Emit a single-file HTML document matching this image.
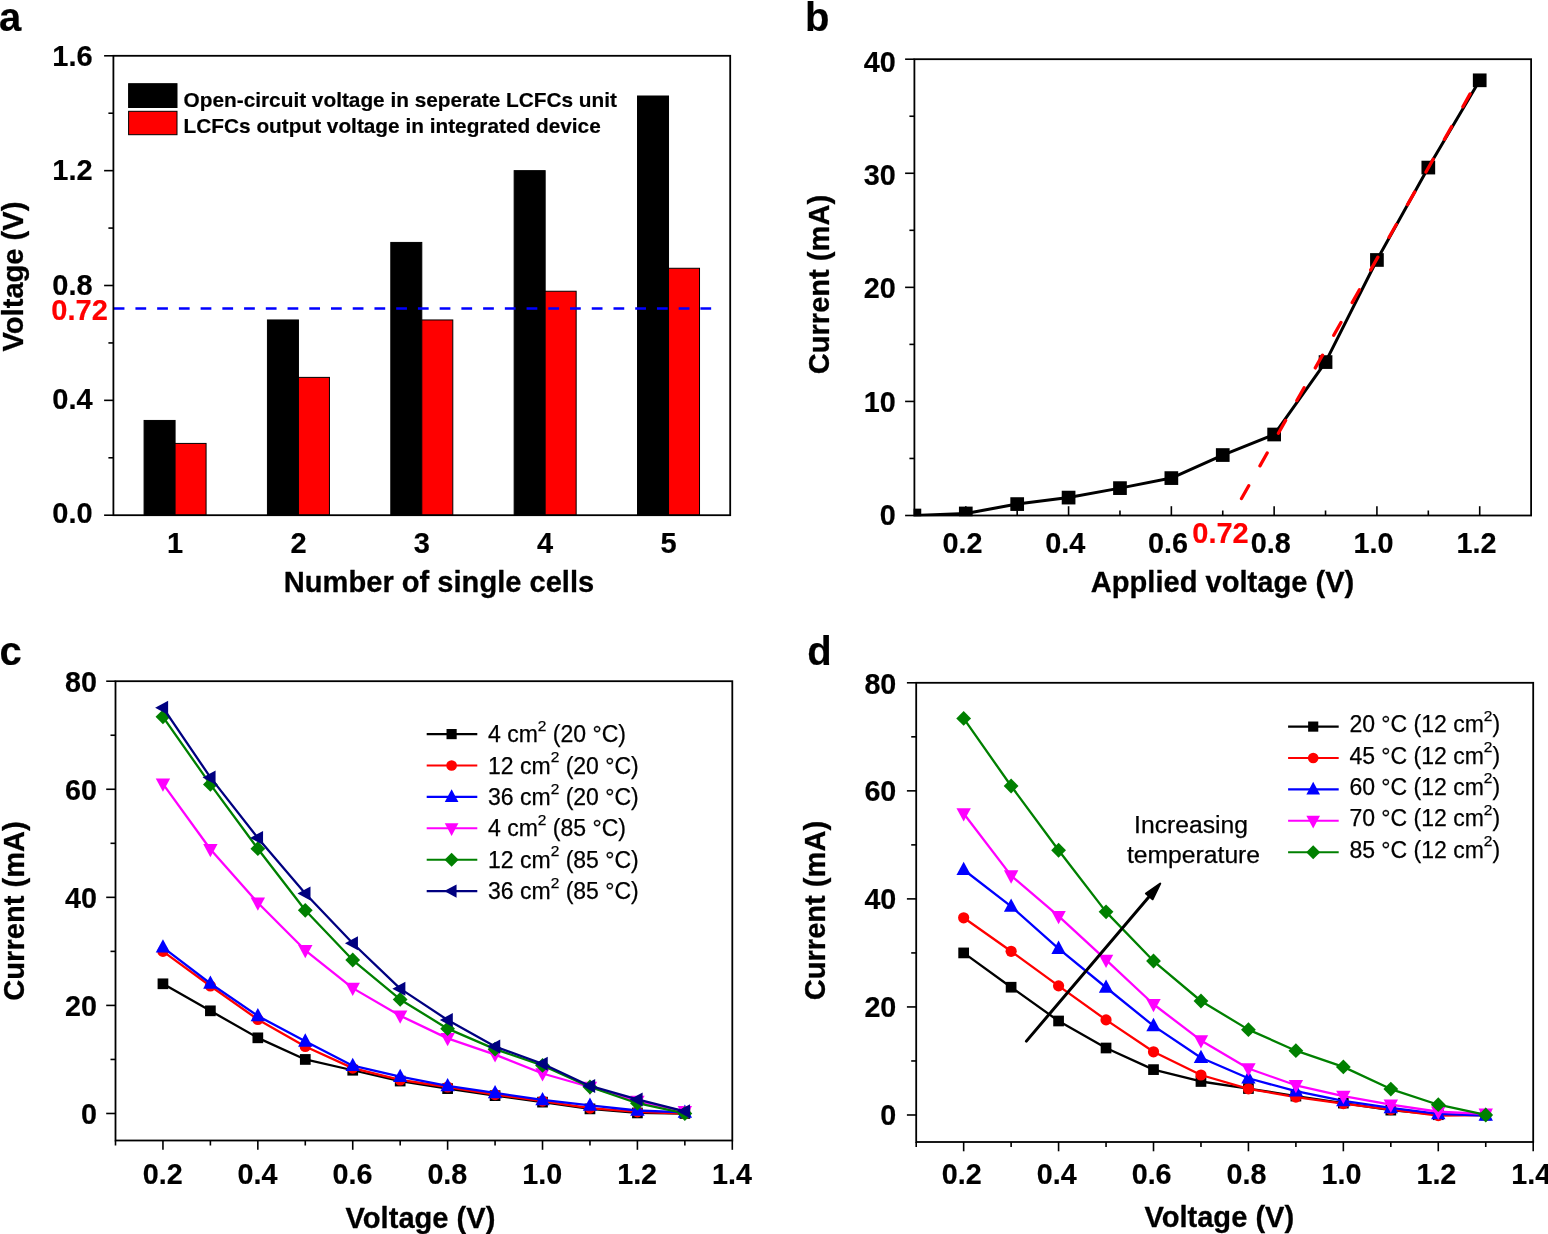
<!DOCTYPE html>
<html lang="en"><head><meta charset="utf-8"><title>Figure</title>
<style>html,body{margin:0;padding:0;background:#fff;overflow:hidden}svg{display:block}</style></head><body>
<svg width="1548" height="1234" viewBox="0 0 1548 1234">
<rect width="1548" height="1234" fill="#fff"/>
<text font-family="Liberation Sans, Arial, Helvetica, sans-serif" font-weight="bold" font-size="40" text-anchor="start" fill="#000" stroke="#000" stroke-width="0.18" stroke-linejoin="round" transform="translate(-1.00 31.20)">a</text>
<text font-family="Liberation Sans, Arial, Helvetica, sans-serif" font-weight="bold" font-size="40" text-anchor="start" fill="#000" stroke="#000" stroke-width="0.18" stroke-linejoin="round" transform="translate(805.00 31.10)">b</text>
<text font-family="Liberation Sans, Arial, Helvetica, sans-serif" font-weight="bold" font-size="40" text-anchor="start" fill="#000" stroke="#000" stroke-width="0.18" stroke-linejoin="round" transform="translate(-0.60 665.00)">c</text>
<text font-family="Liberation Sans, Arial, Helvetica, sans-serif" font-weight="bold" font-size="40" text-anchor="start" fill="#000" stroke="#000" stroke-width="0.18" stroke-linejoin="round" transform="translate(807.20 664.60)">d</text>
<rect x="144.08" y="420.45" width="31.00" height="94.75" fill="#000" stroke="#000" stroke-width="1"/>
<rect x="175.08" y="443.42" width="31.00" height="71.78" fill="#ff0000" stroke="#000" stroke-width="1"/>
<rect x="267.44" y="319.96" width="31.00" height="195.25" fill="#000" stroke="#000" stroke-width="1"/>
<rect x="298.44" y="377.38" width="31.00" height="137.82" fill="#ff0000" stroke="#000" stroke-width="1"/>
<rect x="390.80" y="242.43" width="31.00" height="272.77" fill="#000" stroke="#000" stroke-width="1"/>
<rect x="421.80" y="319.96" width="31.00" height="195.25" fill="#ff0000" stroke="#000" stroke-width="1"/>
<rect x="514.16" y="170.65" width="31.00" height="344.55" fill="#000" stroke="#000" stroke-width="1"/>
<rect x="545.16" y="291.24" width="31.00" height="223.96" fill="#ff0000" stroke="#000" stroke-width="1"/>
<rect x="637.52" y="96.00" width="31.00" height="419.20" fill="#000" stroke="#000" stroke-width="1"/>
<rect x="668.52" y="268.27" width="31.00" height="246.93" fill="#ff0000" stroke="#000" stroke-width="1"/>
<line x1="113.70" y1="308.47" x2="712.20" y2="308.47" stroke="#0000ff" stroke-width="2.5" stroke-dasharray="10.75 10.98"/>
<rect x="113.4" y="55.8" width="616.80" height="459.40" fill="none" stroke="#000" stroke-width="1.8"/>
<line x1="104.10" y1="515.20" x2="113.40" y2="515.20" stroke="#000" stroke-width="1.6"/>
<text font-family="Liberation Sans, Arial, Helvetica, sans-serif" font-weight="bold" font-size="29.0" text-anchor="end" fill="#000" stroke="#000" stroke-width="0.18" stroke-linejoin="round" transform="translate(92.70 523.30)">0.0</text>
<line x1="104.10" y1="400.35" x2="113.40" y2="400.35" stroke="#000" stroke-width="1.6"/>
<text font-family="Liberation Sans, Arial, Helvetica, sans-serif" font-weight="bold" font-size="29.0" text-anchor="end" fill="#000" stroke="#000" stroke-width="0.18" stroke-linejoin="round" transform="translate(92.70 409.05)">0.4</text>
<line x1="104.10" y1="285.50" x2="113.40" y2="285.50" stroke="#000" stroke-width="1.6"/>
<text font-family="Liberation Sans, Arial, Helvetica, sans-serif" font-weight="bold" font-size="29.0" text-anchor="end" fill="#000" stroke="#000" stroke-width="0.18" stroke-linejoin="round" transform="translate(92.70 294.75)">0.8</text>
<line x1="104.10" y1="170.65" x2="113.40" y2="170.65" stroke="#000" stroke-width="1.6"/>
<text font-family="Liberation Sans, Arial, Helvetica, sans-serif" font-weight="bold" font-size="29.0" text-anchor="end" fill="#000" stroke="#000" stroke-width="0.18" stroke-linejoin="round" transform="translate(92.70 180.05)">1.2</text>
<line x1="104.10" y1="55.80" x2="113.40" y2="55.80" stroke="#000" stroke-width="1.6"/>
<text font-family="Liberation Sans, Arial, Helvetica, sans-serif" font-weight="bold" font-size="29.0" text-anchor="end" fill="#000" stroke="#000" stroke-width="0.18" stroke-linejoin="round" transform="translate(92.70 66.30)">1.6</text>
<line x1="108.40" y1="457.78" x2="113.40" y2="457.78" stroke="#000" stroke-width="1.6"/>
<line x1="108.40" y1="342.93" x2="113.40" y2="342.93" stroke="#000" stroke-width="1.6"/>
<line x1="108.40" y1="228.08" x2="113.40" y2="228.08" stroke="#000" stroke-width="1.6"/>
<line x1="108.40" y1="113.23" x2="113.40" y2="113.23" stroke="#000" stroke-width="1.6"/>
<text font-family="Liberation Sans, Arial, Helvetica, sans-serif" font-weight="bold" font-size="29.0" text-anchor="middle" fill="#000" stroke="#000" stroke-width="0.18" stroke-linejoin="round" transform="translate(175.08 552.60)">1</text>
<text font-family="Liberation Sans, Arial, Helvetica, sans-serif" font-weight="bold" font-size="29.0" text-anchor="middle" fill="#000" stroke="#000" stroke-width="0.18" stroke-linejoin="round" transform="translate(298.44 552.60)">2</text>
<text font-family="Liberation Sans, Arial, Helvetica, sans-serif" font-weight="bold" font-size="29.0" text-anchor="middle" fill="#000" stroke="#000" stroke-width="0.18" stroke-linejoin="round" transform="translate(421.80 552.60)">3</text>
<text font-family="Liberation Sans, Arial, Helvetica, sans-serif" font-weight="bold" font-size="29.0" text-anchor="middle" fill="#000" stroke="#000" stroke-width="0.18" stroke-linejoin="round" transform="translate(545.16 552.60)">4</text>
<text font-family="Liberation Sans, Arial, Helvetica, sans-serif" font-weight="bold" font-size="29.0" text-anchor="middle" fill="#000" stroke="#000" stroke-width="0.18" stroke-linejoin="round" transform="translate(668.52 552.60)">5</text>
<text font-family="Liberation Sans, Arial, Helvetica, sans-serif" font-weight="bold" font-size="29.0" text-anchor="end" fill="#ff0000" stroke="#ff0000" stroke-width="0.18" stroke-linejoin="round" transform="translate(107.80 320.20)">0.72</text>
<text font-family="Liberation Sans, Arial, Helvetica, sans-serif" font-weight="bold" font-size="30" text-anchor="middle" fill="#000" stroke="#000" stroke-width="0.3" stroke-linejoin="round" transform="translate(439.00 592.30) scale(0.97 1)">Number of single cells</text>
<text font-family="Liberation Sans, Arial, Helvetica, sans-serif" font-weight="bold" font-size="30" text-anchor="middle" fill="#000" stroke="#000" stroke-width="0.3" stroke-linejoin="round" transform="translate(23.40 276.50) rotate(-90) scale(0.97 1)">Voltage (V)</text>
<rect x="128.6" y="83.7" width="48.4" height="23.8" fill="#000" stroke="#000" stroke-width="1"/>
<rect x="128.6" y="111.3" width="48.4" height="23.4" fill="#ff0000" stroke="#000" stroke-width="1"/>
<text font-family="Liberation Sans, Arial, Helvetica, sans-serif" font-weight="bold" font-size="20.8" text-anchor="start" fill="#000" stroke="#000" stroke-width="0.2" stroke-linejoin="round" transform="translate(183.60 106.70)">Open-circuit voltage in seperate LCFCs unit</text>
<text font-family="Liberation Sans, Arial, Helvetica, sans-serif" font-weight="bold" font-size="20.8" text-anchor="start" fill="#000" stroke="#000" stroke-width="0.2" stroke-linejoin="round" transform="translate(183.60 132.60)">LCFCs output voltage in integrated device</text>
<clipPath id="cb"><rect x="913.6" y="59.2" width="617.50" height="457.10"/></clipPath>
<rect x="914.4" y="59.2" width="616.70" height="456.30" fill="none" stroke="#000" stroke-width="1.8"/>
<line x1="905.10" y1="515.50" x2="914.40" y2="515.50" stroke="#000" stroke-width="1.6"/>
<text font-family="Liberation Sans, Arial, Helvetica, sans-serif" font-weight="bold" font-size="28.8" text-anchor="end" fill="#000" stroke="#000" stroke-width="0.18" stroke-linejoin="round" transform="translate(895.80 525.10)">0</text>
<line x1="905.10" y1="401.43" x2="914.40" y2="401.43" stroke="#000" stroke-width="1.6"/>
<text font-family="Liberation Sans, Arial, Helvetica, sans-serif" font-weight="bold" font-size="28.8" text-anchor="end" fill="#000" stroke="#000" stroke-width="0.18" stroke-linejoin="round" transform="translate(895.80 411.62)">10</text>
<line x1="905.10" y1="287.35" x2="914.40" y2="287.35" stroke="#000" stroke-width="1.6"/>
<text font-family="Liberation Sans, Arial, Helvetica, sans-serif" font-weight="bold" font-size="28.8" text-anchor="end" fill="#000" stroke="#000" stroke-width="0.18" stroke-linejoin="round" transform="translate(895.80 298.00)">20</text>
<line x1="905.10" y1="173.27" x2="914.40" y2="173.27" stroke="#000" stroke-width="1.6"/>
<text font-family="Liberation Sans, Arial, Helvetica, sans-serif" font-weight="bold" font-size="28.8" text-anchor="end" fill="#000" stroke="#000" stroke-width="0.18" stroke-linejoin="round" transform="translate(895.80 185.07)">30</text>
<line x1="905.10" y1="59.20" x2="914.40" y2="59.20" stroke="#000" stroke-width="1.6"/>
<text font-family="Liberation Sans, Arial, Helvetica, sans-serif" font-weight="bold" font-size="28.8" text-anchor="end" fill="#000" stroke="#000" stroke-width="0.18" stroke-linejoin="round" transform="translate(895.80 72.30)">40</text>
<line x1="909.40" y1="458.46" x2="914.40" y2="458.46" stroke="#000" stroke-width="1.6"/>
<line x1="909.40" y1="344.39" x2="914.40" y2="344.39" stroke="#000" stroke-width="1.6"/>
<line x1="909.40" y1="230.31" x2="914.40" y2="230.31" stroke="#000" stroke-width="1.6"/>
<line x1="909.40" y1="116.24" x2="914.40" y2="116.24" stroke="#000" stroke-width="1.6"/>
<line x1="965.79" y1="515.50" x2="965.79" y2="506.20" stroke="#000" stroke-width="1.6"/>
<text font-family="Liberation Sans, Arial, Helvetica, sans-serif" font-weight="bold" font-size="28.8" text-anchor="middle" fill="#000" stroke="#000" stroke-width="0.18" stroke-linejoin="round" transform="translate(962.49 552.50)">0.2</text>
<line x1="1017.18" y1="515.50" x2="1017.18" y2="510.50" stroke="#000" stroke-width="1.6"/>
<line x1="1068.58" y1="515.50" x2="1068.58" y2="506.20" stroke="#000" stroke-width="1.6"/>
<text font-family="Liberation Sans, Arial, Helvetica, sans-serif" font-weight="bold" font-size="28.8" text-anchor="middle" fill="#000" stroke="#000" stroke-width="0.18" stroke-linejoin="round" transform="translate(1065.28 552.50)">0.4</text>
<line x1="1119.97" y1="515.50" x2="1119.97" y2="510.50" stroke="#000" stroke-width="1.6"/>
<line x1="1171.36" y1="515.50" x2="1171.36" y2="506.20" stroke="#000" stroke-width="1.6"/>
<text font-family="Liberation Sans, Arial, Helvetica, sans-serif" font-weight="bold" font-size="28.8" text-anchor="middle" fill="#000" stroke="#000" stroke-width="0.18" stroke-linejoin="round" transform="translate(1168.06 552.50)">0.6</text>
<line x1="1222.75" y1="515.50" x2="1222.75" y2="510.50" stroke="#000" stroke-width="1.6"/>
<line x1="1274.14" y1="515.50" x2="1274.14" y2="506.20" stroke="#000" stroke-width="1.6"/>
<text font-family="Liberation Sans, Arial, Helvetica, sans-serif" font-weight="bold" font-size="28.8" text-anchor="middle" fill="#000" stroke="#000" stroke-width="0.18" stroke-linejoin="round" transform="translate(1270.84 552.50)">0.8</text>
<line x1="1325.53" y1="515.50" x2="1325.53" y2="510.50" stroke="#000" stroke-width="1.6"/>
<line x1="1376.92" y1="515.50" x2="1376.92" y2="506.20" stroke="#000" stroke-width="1.6"/>
<text font-family="Liberation Sans, Arial, Helvetica, sans-serif" font-weight="bold" font-size="28.8" text-anchor="middle" fill="#000" stroke="#000" stroke-width="0.18" stroke-linejoin="round" transform="translate(1373.62 552.50)">1.0</text>
<line x1="1428.32" y1="515.50" x2="1428.32" y2="510.50" stroke="#000" stroke-width="1.6"/>
<line x1="1479.71" y1="515.50" x2="1479.71" y2="506.20" stroke="#000" stroke-width="1.6"/>
<text font-family="Liberation Sans, Arial, Helvetica, sans-serif" font-weight="bold" font-size="28.8" text-anchor="middle" fill="#000" stroke="#000" stroke-width="0.18" stroke-linejoin="round" transform="translate(1476.41 552.50)">1.2</text>
<g clip-path="url(#cb)">
<polyline points="914.40,515.50 965.79,513.45 1017.18,504.09 1068.58,497.59 1119.97,488.12 1171.36,478.08 1222.75,455.04 1274.14,434.51 1325.53,362.07 1376.92,259.97 1428.32,167.57 1479.71,80.30" fill="none" stroke="#000" stroke-width="3" stroke-linejoin="round"/>
<rect x="907.55" y="508.65" width="13.70" height="13.70" fill="#000"/>
<rect x="958.94" y="506.60" width="13.70" height="13.70" fill="#000"/>
<rect x="1010.34" y="497.24" width="13.70" height="13.70" fill="#000"/>
<rect x="1061.73" y="490.74" width="13.70" height="13.70" fill="#000"/>
<rect x="1113.12" y="481.27" width="13.70" height="13.70" fill="#000"/>
<rect x="1164.51" y="471.24" width="13.70" height="13.70" fill="#000"/>
<rect x="1215.90" y="448.19" width="13.70" height="13.70" fill="#000"/>
<rect x="1267.29" y="427.66" width="13.70" height="13.70" fill="#000"/>
<rect x="1318.69" y="355.22" width="13.70" height="13.70" fill="#000"/>
<rect x="1370.08" y="253.12" width="13.70" height="13.70" fill="#000"/>
<rect x="1421.47" y="160.72" width="13.70" height="13.70" fill="#000"/>
<rect x="1472.86" y="73.46" width="13.70" height="13.70" fill="#000"/>
</g>
<line x1="1241.50" y1="498.50" x2="1470.48" y2="93.24" stroke="#ff0000" stroke-width="3.3" stroke-dasharray="14.7 22.8" stroke-linecap="round"/>
<text font-family="Liberation Sans, Arial, Helvetica, sans-serif" font-weight="bold" font-size="29.0" text-anchor="middle" fill="#ff0000" stroke="#ff0000" stroke-width="0.18" stroke-linejoin="round" transform="translate(1220.50 543.40)">0.72</text>
<text font-family="Liberation Sans, Arial, Helvetica, sans-serif" font-weight="bold" font-size="30" text-anchor="middle" fill="#000" stroke="#000" stroke-width="0.3" stroke-linejoin="round" transform="translate(1222.50 592.30) scale(0.97 1)">Applied voltage (V)</text>
<text font-family="Liberation Sans, Arial, Helvetica, sans-serif" font-weight="bold" font-size="30" text-anchor="middle" fill="#000" stroke="#000" stroke-width="0.3" stroke-linejoin="round" transform="translate(829.00 284.60) rotate(-90) scale(0.97 1)">Current (mA)</text>
<rect x="115.5" y="681.2" width="616.80" height="459.30" fill="none" stroke="#000" stroke-width="1.8"/>
<line x1="106.20" y1="1113.48" x2="115.50" y2="1113.48" stroke="#000" stroke-width="1.6"/>
<line x1="106.20" y1="1005.41" x2="115.50" y2="1005.41" stroke="#000" stroke-width="1.6"/>
<line x1="106.20" y1="897.34" x2="115.50" y2="897.34" stroke="#000" stroke-width="1.6"/>
<line x1="106.20" y1="789.27" x2="115.50" y2="789.27" stroke="#000" stroke-width="1.6"/>
<line x1="106.20" y1="681.20" x2="115.50" y2="681.20" stroke="#000" stroke-width="1.6"/>
<line x1="110.50" y1="1059.45" x2="115.50" y2="1059.45" stroke="#000" stroke-width="1.6"/>
<line x1="110.50" y1="951.38" x2="115.50" y2="951.38" stroke="#000" stroke-width="1.6"/>
<line x1="110.50" y1="843.31" x2="115.50" y2="843.31" stroke="#000" stroke-width="1.6"/>
<line x1="110.50" y1="735.24" x2="115.50" y2="735.24" stroke="#000" stroke-width="1.6"/>
<line x1="115.50" y1="1140.50" x2="115.50" y2="1145.50" stroke="#000" stroke-width="1.6"/>
<line x1="162.95" y1="1140.50" x2="162.95" y2="1149.80" stroke="#000" stroke-width="1.6"/>
<line x1="210.39" y1="1140.50" x2="210.39" y2="1145.50" stroke="#000" stroke-width="1.6"/>
<line x1="257.84" y1="1140.50" x2="257.84" y2="1149.80" stroke="#000" stroke-width="1.6"/>
<line x1="305.28" y1="1140.50" x2="305.28" y2="1145.50" stroke="#000" stroke-width="1.6"/>
<line x1="352.73" y1="1140.50" x2="352.73" y2="1149.80" stroke="#000" stroke-width="1.6"/>
<line x1="400.18" y1="1140.50" x2="400.18" y2="1145.50" stroke="#000" stroke-width="1.6"/>
<line x1="447.62" y1="1140.50" x2="447.62" y2="1149.80" stroke="#000" stroke-width="1.6"/>
<line x1="495.07" y1="1140.50" x2="495.07" y2="1145.50" stroke="#000" stroke-width="1.6"/>
<line x1="542.52" y1="1140.50" x2="542.52" y2="1149.80" stroke="#000" stroke-width="1.6"/>
<line x1="589.96" y1="1140.50" x2="589.96" y2="1145.50" stroke="#000" stroke-width="1.6"/>
<line x1="637.41" y1="1140.50" x2="637.41" y2="1149.80" stroke="#000" stroke-width="1.6"/>
<line x1="684.85" y1="1140.50" x2="684.85" y2="1145.50" stroke="#000" stroke-width="1.6"/>
<line x1="732.30" y1="1140.50" x2="732.30" y2="1149.80" stroke="#000" stroke-width="1.6"/>
<polyline points="162.95,983.80 210.39,1010.82 257.84,1037.83 305.28,1059.45 352.73,1070.25 400.18,1081.06 447.62,1088.63 495.07,1095.65 542.52,1102.13 589.96,1108.89 637.41,1112.94 684.85,1113.48" fill="none" stroke="#000000" stroke-width="2.3" stroke-linejoin="round"/>
<rect x="157.60" y="978.45" width="10.70" height="10.70" fill="#000000"/>
<rect x="205.04" y="1005.47" width="10.70" height="10.70" fill="#000000"/>
<rect x="252.49" y="1032.48" width="10.70" height="10.70" fill="#000000"/>
<rect x="299.93" y="1054.10" width="10.70" height="10.70" fill="#000000"/>
<rect x="347.38" y="1064.90" width="10.70" height="10.70" fill="#000000"/>
<rect x="394.83" y="1075.71" width="10.70" height="10.70" fill="#000000"/>
<rect x="442.27" y="1083.28" width="10.70" height="10.70" fill="#000000"/>
<rect x="489.72" y="1090.30" width="10.70" height="10.70" fill="#000000"/>
<rect x="537.17" y="1096.78" width="10.70" height="10.70" fill="#000000"/>
<rect x="584.61" y="1103.54" width="10.70" height="10.70" fill="#000000"/>
<rect x="632.06" y="1107.59" width="10.70" height="10.70" fill="#000000"/>
<rect x="679.50" y="1108.13" width="10.70" height="10.70" fill="#000000"/>
<polyline points="162.95,951.38 210.39,985.96 257.84,1019.46 305.28,1046.48 352.73,1068.09 400.18,1079.98 447.62,1087.01 495.07,1094.57 542.52,1101.05 589.96,1108.08 637.41,1111.86 684.85,1113.48" fill="none" stroke="#ff0000" stroke-width="2.3" stroke-linejoin="round"/>
<circle cx="162.95" cy="951.38" r="5.60" fill="#ff0000"/>
<circle cx="210.39" cy="985.96" r="5.60" fill="#ff0000"/>
<circle cx="257.84" cy="1019.46" r="5.60" fill="#ff0000"/>
<circle cx="305.28" cy="1046.48" r="5.60" fill="#ff0000"/>
<circle cx="352.73" cy="1068.09" r="5.60" fill="#ff0000"/>
<circle cx="400.18" cy="1079.98" r="5.60" fill="#ff0000"/>
<circle cx="447.62" cy="1087.01" r="5.60" fill="#ff0000"/>
<circle cx="495.07" cy="1094.57" r="5.60" fill="#ff0000"/>
<circle cx="542.52" cy="1101.05" r="5.60" fill="#ff0000"/>
<circle cx="589.96" cy="1108.08" r="5.60" fill="#ff0000"/>
<circle cx="637.41" cy="1111.86" r="5.60" fill="#ff0000"/>
<circle cx="684.85" cy="1113.48" r="5.60" fill="#ff0000"/>
<polyline points="162.95,947.32 210.39,983.53 257.84,1015.95 305.28,1041.35 352.73,1065.66 400.18,1076.74 447.62,1085.92 495.07,1092.95 542.52,1099.97 589.96,1105.38 637.41,1110.51 684.85,1112.40" fill="none" stroke="#0000ff" stroke-width="2.3" stroke-linejoin="round"/>
<polygon points="155.75,952.62 170.15,952.62 162.95,939.32" fill="#0000ff"/>
<polygon points="203.19,988.83 217.59,988.83 210.39,975.53" fill="#0000ff"/>
<polygon points="250.64,1021.25 265.04,1021.25 257.84,1007.95" fill="#0000ff"/>
<polygon points="298.08,1046.65 312.48,1046.65 305.28,1033.35" fill="#0000ff"/>
<polygon points="345.53,1070.96 359.93,1070.96 352.73,1057.66" fill="#0000ff"/>
<polygon points="392.98,1082.04 407.38,1082.04 400.18,1068.74" fill="#0000ff"/>
<polygon points="440.42,1091.22 454.82,1091.22 447.62,1077.92" fill="#0000ff"/>
<polygon points="487.87,1098.25 502.27,1098.25 495.07,1084.95" fill="#0000ff"/>
<polygon points="535.32,1105.27 549.72,1105.27 542.52,1091.97" fill="#0000ff"/>
<polygon points="582.76,1110.68 597.16,1110.68 589.96,1097.38" fill="#0000ff"/>
<polygon points="630.21,1115.81 644.61,1115.81 637.41,1102.51" fill="#0000ff"/>
<polygon points="677.65,1117.70 692.05,1117.70 684.85,1104.40" fill="#0000ff"/>
<polyline points="162.95,783.87 210.39,849.25 257.84,902.74 305.28,950.30 352.73,988.12 400.18,1015.68 447.62,1038.37 495.07,1054.58 542.52,1073.50 589.96,1087.01 637.41,1101.05 684.85,1111.32" fill="none" stroke="#ff00ff" stroke-width="2.3" stroke-linejoin="round"/>
<polygon points="155.75,778.57 170.15,778.57 162.95,791.87" fill="#ff00ff"/>
<polygon points="203.19,843.95 217.59,843.95 210.39,857.25" fill="#ff00ff"/>
<polygon points="250.64,897.44 265.04,897.44 257.84,910.74" fill="#ff00ff"/>
<polygon points="298.08,945.00 312.48,945.00 305.28,958.30" fill="#ff00ff"/>
<polygon points="345.53,982.82 359.93,982.82 352.73,996.12" fill="#ff00ff"/>
<polygon points="392.98,1010.38 407.38,1010.38 400.18,1023.68" fill="#ff00ff"/>
<polygon points="440.42,1033.07 454.82,1033.07 447.62,1046.37" fill="#ff00ff"/>
<polygon points="487.87,1049.28 502.27,1049.28 495.07,1062.58" fill="#ff00ff"/>
<polygon points="535.32,1068.20 549.72,1068.20 542.52,1081.50" fill="#ff00ff"/>
<polygon points="582.76,1081.71 597.16,1081.71 589.96,1095.01" fill="#ff00ff"/>
<polygon points="630.21,1095.75 644.61,1095.75 637.41,1109.05" fill="#ff00ff"/>
<polygon points="677.65,1106.02 692.05,1106.02 684.85,1119.32" fill="#ff00ff"/>
<polyline points="162.95,716.86 210.39,784.41 257.84,848.71 305.28,910.31 352.73,960.02 400.18,999.47 447.62,1028.65 495.07,1049.18 542.52,1065.39 589.96,1087.01 637.41,1103.22 684.85,1113.48" fill="none" stroke="#008000" stroke-width="2.3" stroke-linejoin="round"/>
<polygon points="155.55,716.86 162.95,709.46 170.35,716.86 162.95,724.26" fill="#008000"/>
<polygon points="202.99,784.41 210.39,777.01 217.79,784.41 210.39,791.81" fill="#008000"/>
<polygon points="250.44,848.71 257.84,841.31 265.24,848.71 257.84,856.11" fill="#008000"/>
<polygon points="297.88,910.31 305.28,902.91 312.68,910.31 305.28,917.71" fill="#008000"/>
<polygon points="345.33,960.02 352.73,952.62 360.13,960.02 352.73,967.42" fill="#008000"/>
<polygon points="392.78,999.47 400.18,992.07 407.58,999.47 400.18,1006.87" fill="#008000"/>
<polygon points="440.22,1028.65 447.62,1021.25 455.02,1028.65 447.62,1036.05" fill="#008000"/>
<polygon points="487.67,1049.18 495.07,1041.78 502.47,1049.18 495.07,1056.58" fill="#008000"/>
<polygon points="535.12,1065.39 542.52,1057.99 549.92,1065.39 542.52,1072.79" fill="#008000"/>
<polygon points="582.56,1087.01 589.96,1079.61 597.36,1087.01 589.96,1094.41" fill="#008000"/>
<polygon points="630.01,1103.22 637.41,1095.82 644.81,1103.22 637.41,1110.62" fill="#008000"/>
<polygon points="677.45,1113.48 684.85,1106.08 692.25,1113.48 684.85,1120.88" fill="#008000"/>
<polyline points="162.95,707.68 210.39,777.38 257.84,837.90 305.28,893.56 352.73,943.27 400.18,988.66 447.62,1020.00 495.07,1046.48 542.52,1063.77 589.96,1085.92 637.41,1099.43 684.85,1111.32" fill="none" stroke="#000080" stroke-width="2.3" stroke-linejoin="round"/>
<polygon points="168.15,700.68 168.15,714.68 155.15,707.68" fill="#000080"/>
<polygon points="215.59,770.38 215.59,784.38 202.59,777.38" fill="#000080"/>
<polygon points="263.04,830.90 263.04,844.90 250.04,837.90" fill="#000080"/>
<polygon points="310.48,886.56 310.48,900.56 297.48,893.56" fill="#000080"/>
<polygon points="357.93,936.27 357.93,950.27 344.93,943.27" fill="#000080"/>
<polygon points="405.38,981.66 405.38,995.66 392.38,988.66" fill="#000080"/>
<polygon points="452.82,1013.00 452.82,1027.00 439.82,1020.00" fill="#000080"/>
<polygon points="500.27,1039.48 500.27,1053.48 487.27,1046.48" fill="#000080"/>
<polygon points="547.72,1056.77 547.72,1070.77 534.72,1063.77" fill="#000080"/>
<polygon points="595.16,1078.92 595.16,1092.92 582.16,1085.92" fill="#000080"/>
<polygon points="642.61,1092.43 642.61,1106.43 629.61,1099.43" fill="#000080"/>
<polygon points="690.05,1104.32 690.05,1118.32 677.05,1111.32" fill="#000080"/>
<text font-family="Liberation Sans, Arial, Helvetica, sans-serif" font-weight="bold" font-size="28.7" text-anchor="end" fill="#000" stroke="#000" stroke-width="0.18" stroke-linejoin="round" transform="translate(97.00 1124.38)">0</text>
<text font-family="Liberation Sans, Arial, Helvetica, sans-serif" font-weight="bold" font-size="28.7" text-anchor="end" fill="#000" stroke="#000" stroke-width="0.18" stroke-linejoin="round" transform="translate(97.00 1016.31)">20</text>
<text font-family="Liberation Sans, Arial, Helvetica, sans-serif" font-weight="bold" font-size="28.7" text-anchor="end" fill="#000" stroke="#000" stroke-width="0.18" stroke-linejoin="round" transform="translate(97.00 908.24)">40</text>
<text font-family="Liberation Sans, Arial, Helvetica, sans-serif" font-weight="bold" font-size="28.7" text-anchor="end" fill="#000" stroke="#000" stroke-width="0.18" stroke-linejoin="round" transform="translate(97.00 800.17)">60</text>
<text font-family="Liberation Sans, Arial, Helvetica, sans-serif" font-weight="bold" font-size="28.7" text-anchor="end" fill="#000" stroke="#000" stroke-width="0.18" stroke-linejoin="round" transform="translate(97.00 691.50)">80</text>
<text font-family="Liberation Sans, Arial, Helvetica, sans-serif" font-weight="bold" font-size="28.7" text-anchor="middle" fill="#000" stroke="#000" stroke-width="0.18" stroke-linejoin="round" transform="translate(162.65 1183.80)">0.2</text>
<text font-family="Liberation Sans, Arial, Helvetica, sans-serif" font-weight="bold" font-size="28.7" text-anchor="middle" fill="#000" stroke="#000" stroke-width="0.18" stroke-linejoin="round" transform="translate(257.54 1183.80)">0.4</text>
<text font-family="Liberation Sans, Arial, Helvetica, sans-serif" font-weight="bold" font-size="28.7" text-anchor="middle" fill="#000" stroke="#000" stroke-width="0.18" stroke-linejoin="round" transform="translate(352.43 1183.80)">0.6</text>
<text font-family="Liberation Sans, Arial, Helvetica, sans-serif" font-weight="bold" font-size="28.7" text-anchor="middle" fill="#000" stroke="#000" stroke-width="0.18" stroke-linejoin="round" transform="translate(447.32 1183.80)">0.8</text>
<text font-family="Liberation Sans, Arial, Helvetica, sans-serif" font-weight="bold" font-size="28.7" text-anchor="middle" fill="#000" stroke="#000" stroke-width="0.18" stroke-linejoin="round" transform="translate(542.22 1183.80)">1.0</text>
<text font-family="Liberation Sans, Arial, Helvetica, sans-serif" font-weight="bold" font-size="28.7" text-anchor="middle" fill="#000" stroke="#000" stroke-width="0.18" stroke-linejoin="round" transform="translate(637.11 1183.80)">1.2</text>
<text font-family="Liberation Sans, Arial, Helvetica, sans-serif" font-weight="bold" font-size="28.7" text-anchor="middle" fill="#000" stroke="#000" stroke-width="0.18" stroke-linejoin="round" transform="translate(732.00 1183.80)">1.4</text>
<text font-family="Liberation Sans, Arial, Helvetica, sans-serif" font-weight="bold" font-size="30" text-anchor="middle" fill="#000" stroke="#000" stroke-width="0.3" stroke-linejoin="round" transform="translate(420.50 1227.50) scale(0.97 1)">Voltage (V)</text>
<text font-family="Liberation Sans, Arial, Helvetica, sans-serif" font-weight="bold" font-size="30" text-anchor="middle" fill="#000" stroke="#000" stroke-width="0.3" stroke-linejoin="round" transform="translate(23.60 911.00) rotate(-90) scale(0.97 1)">Current (mA)</text>
<line x1="426.70" y1="734.10" x2="477.30" y2="734.10" stroke="#000000" stroke-width="2.1"/>
<rect x="446.52" y="729.02" width="10.16" height="10.16" fill="#000000"/>
<text x="488.0" y="742.20" font-family="Liberation Sans, Arial, Helvetica, sans-serif" font-size="23.0" fill="#000" stroke="#000" stroke-width="0.25">4 cm<tspan dy="-11.5" font-size="15.5">2</tspan><tspan dy="11.5"> (20 °C)</tspan></text>
<line x1="426.70" y1="765.50" x2="477.30" y2="765.50" stroke="#ff0000" stroke-width="2.1"/>
<circle cx="451.60" cy="765.50" r="5.32" fill="#ff0000"/>
<text x="488.0" y="773.60" font-family="Liberation Sans, Arial, Helvetica, sans-serif" font-size="23.0" fill="#000" stroke="#000" stroke-width="0.25">12 cm<tspan dy="-11.5" font-size="15.5">2</tspan><tspan dy="11.5"> (20 °C)</tspan></text>
<line x1="426.70" y1="796.90" x2="477.30" y2="796.90" stroke="#0000ff" stroke-width="2.1"/>
<polygon points="444.76,801.93 458.44,801.93 451.60,789.30" fill="#0000ff"/>
<text x="488.0" y="805.00" font-family="Liberation Sans, Arial, Helvetica, sans-serif" font-size="23.0" fill="#000" stroke="#000" stroke-width="0.25">36 cm<tspan dy="-11.5" font-size="15.5">2</tspan><tspan dy="11.5"> (20 °C)</tspan></text>
<line x1="426.70" y1="828.30" x2="477.30" y2="828.30" stroke="#ff00ff" stroke-width="2.1"/>
<polygon points="444.76,823.26 458.44,823.26 451.60,835.90" fill="#ff00ff"/>
<text x="488.0" y="836.40" font-family="Liberation Sans, Arial, Helvetica, sans-serif" font-size="23.0" fill="#000" stroke="#000" stroke-width="0.25">4 cm<tspan dy="-11.5" font-size="15.5">2</tspan><tspan dy="11.5"> (85 °C)</tspan></text>
<line x1="426.70" y1="859.70" x2="477.30" y2="859.70" stroke="#008000" stroke-width="2.1"/>
<polygon points="444.57,859.70 451.60,852.67 458.63,859.70 451.60,866.73" fill="#008000"/>
<text x="488.0" y="867.80" font-family="Liberation Sans, Arial, Helvetica, sans-serif" font-size="23.0" fill="#000" stroke="#000" stroke-width="0.25">12 cm<tspan dy="-11.5" font-size="15.5">2</tspan><tspan dy="11.5"> (85 °C)</tspan></text>
<line x1="426.70" y1="891.10" x2="477.30" y2="891.10" stroke="#000080" stroke-width="2.1"/>
<polygon points="456.54,884.45 456.54,897.75 444.19,891.10" fill="#000080"/>
<text x="488.0" y="899.20" font-family="Liberation Sans, Arial, Helvetica, sans-serif" font-size="23.0" fill="#000" stroke="#000" stroke-width="0.25">36 cm<tspan dy="-11.5" font-size="15.5">2</tspan><tspan dy="11.5"> (85 °C)</tspan></text>
<rect x="916.2" y="682.8" width="617.00" height="459.20" fill="none" stroke="#000" stroke-width="1.8"/>
<line x1="906.90" y1="1114.99" x2="916.20" y2="1114.99" stroke="#000" stroke-width="1.6"/>
<line x1="906.90" y1="1006.94" x2="916.20" y2="1006.94" stroke="#000" stroke-width="1.6"/>
<line x1="906.90" y1="898.89" x2="916.20" y2="898.89" stroke="#000" stroke-width="1.6"/>
<line x1="906.90" y1="790.85" x2="916.20" y2="790.85" stroke="#000" stroke-width="1.6"/>
<line x1="906.90" y1="682.80" x2="916.20" y2="682.80" stroke="#000" stroke-width="1.6"/>
<line x1="911.20" y1="1060.96" x2="916.20" y2="1060.96" stroke="#000" stroke-width="1.6"/>
<line x1="911.20" y1="952.92" x2="916.20" y2="952.92" stroke="#000" stroke-width="1.6"/>
<line x1="911.20" y1="844.87" x2="916.20" y2="844.87" stroke="#000" stroke-width="1.6"/>
<line x1="911.20" y1="736.82" x2="916.20" y2="736.82" stroke="#000" stroke-width="1.6"/>
<line x1="916.20" y1="1142.00" x2="916.20" y2="1147.00" stroke="#000" stroke-width="1.6"/>
<line x1="963.66" y1="1142.00" x2="963.66" y2="1151.30" stroke="#000" stroke-width="1.6"/>
<line x1="1011.12" y1="1142.00" x2="1011.12" y2="1147.00" stroke="#000" stroke-width="1.6"/>
<line x1="1058.58" y1="1142.00" x2="1058.58" y2="1151.30" stroke="#000" stroke-width="1.6"/>
<line x1="1106.05" y1="1142.00" x2="1106.05" y2="1147.00" stroke="#000" stroke-width="1.6"/>
<line x1="1153.51" y1="1142.00" x2="1153.51" y2="1151.30" stroke="#000" stroke-width="1.6"/>
<line x1="1200.97" y1="1142.00" x2="1200.97" y2="1147.00" stroke="#000" stroke-width="1.6"/>
<line x1="1248.43" y1="1142.00" x2="1248.43" y2="1151.30" stroke="#000" stroke-width="1.6"/>
<line x1="1295.89" y1="1142.00" x2="1295.89" y2="1147.00" stroke="#000" stroke-width="1.6"/>
<line x1="1343.35" y1="1142.00" x2="1343.35" y2="1151.30" stroke="#000" stroke-width="1.6"/>
<line x1="1390.82" y1="1142.00" x2="1390.82" y2="1147.00" stroke="#000" stroke-width="1.6"/>
<line x1="1438.28" y1="1142.00" x2="1438.28" y2="1151.30" stroke="#000" stroke-width="1.6"/>
<line x1="1485.74" y1="1142.00" x2="1485.74" y2="1147.00" stroke="#000" stroke-width="1.6"/>
<line x1="1533.20" y1="1142.00" x2="1533.20" y2="1151.30" stroke="#000" stroke-width="1.6"/>
<polyline points="963.66,952.92 1011.12,987.22 1058.58,1020.99 1106.05,1048.00 1153.51,1069.61 1200.97,1081.49 1248.43,1088.52 1295.89,1096.08 1343.35,1103.10 1390.82,1110.13 1438.28,1114.72 1485.74,1114.99" fill="none" stroke="#000000" stroke-width="2.3" stroke-linejoin="round"/>
<rect x="958.31" y="947.57" width="10.70" height="10.70" fill="#000000"/>
<rect x="1005.77" y="981.87" width="10.70" height="10.70" fill="#000000"/>
<rect x="1053.23" y="1015.64" width="10.70" height="10.70" fill="#000000"/>
<rect x="1100.70" y="1042.65" width="10.70" height="10.70" fill="#000000"/>
<rect x="1148.16" y="1064.26" width="10.70" height="10.70" fill="#000000"/>
<rect x="1195.62" y="1076.14" width="10.70" height="10.70" fill="#000000"/>
<rect x="1243.08" y="1083.17" width="10.70" height="10.70" fill="#000000"/>
<rect x="1290.54" y="1090.73" width="10.70" height="10.70" fill="#000000"/>
<rect x="1338.00" y="1097.75" width="10.70" height="10.70" fill="#000000"/>
<rect x="1385.47" y="1104.78" width="10.70" height="10.70" fill="#000000"/>
<rect x="1432.93" y="1109.37" width="10.70" height="10.70" fill="#000000"/>
<rect x="1480.39" y="1109.64" width="10.70" height="10.70" fill="#000000"/>
<polyline points="963.66,917.80 1011.12,951.30 1058.58,985.87 1106.05,1019.91 1153.51,1051.78 1200.97,1075.01 1248.43,1088.79 1295.89,1097.16 1343.35,1103.64 1390.82,1109.59 1438.28,1115.53 1485.74,1114.99" fill="none" stroke="#ff0000" stroke-width="2.3" stroke-linejoin="round"/>
<circle cx="963.66" cy="917.80" r="5.60" fill="#ff0000"/>
<circle cx="1011.12" cy="951.30" r="5.60" fill="#ff0000"/>
<circle cx="1058.58" cy="985.87" r="5.60" fill="#ff0000"/>
<circle cx="1106.05" cy="1019.91" r="5.60" fill="#ff0000"/>
<circle cx="1153.51" cy="1051.78" r="5.60" fill="#ff0000"/>
<circle cx="1200.97" cy="1075.01" r="5.60" fill="#ff0000"/>
<circle cx="1248.43" cy="1088.79" r="5.60" fill="#ff0000"/>
<circle cx="1295.89" cy="1097.16" r="5.60" fill="#ff0000"/>
<circle cx="1343.35" cy="1103.64" r="5.60" fill="#ff0000"/>
<circle cx="1390.82" cy="1109.59" r="5.60" fill="#ff0000"/>
<circle cx="1438.28" cy="1115.53" r="5.60" fill="#ff0000"/>
<circle cx="1485.74" cy="1114.99" r="5.60" fill="#ff0000"/>
<polyline points="963.66,869.72 1011.12,906.46 1058.58,948.60 1106.05,987.49 1153.51,1025.85 1200.97,1057.72 1248.43,1078.25 1295.89,1091.22 1343.35,1100.94 1390.82,1107.97 1438.28,1113.91 1485.74,1115.53" fill="none" stroke="#0000ff" stroke-width="2.3" stroke-linejoin="round"/>
<polygon points="956.46,875.02 970.86,875.02 963.66,861.72" fill="#0000ff"/>
<polygon points="1003.92,911.76 1018.32,911.76 1011.12,898.46" fill="#0000ff"/>
<polygon points="1051.38,953.90 1065.78,953.90 1058.58,940.60" fill="#0000ff"/>
<polygon points="1098.85,992.79 1113.25,992.79 1106.05,979.49" fill="#0000ff"/>
<polygon points="1146.31,1031.15 1160.71,1031.15 1153.51,1017.85" fill="#0000ff"/>
<polygon points="1193.77,1063.02 1208.17,1063.02 1200.97,1049.72" fill="#0000ff"/>
<polygon points="1241.23,1083.55 1255.63,1083.55 1248.43,1070.25" fill="#0000ff"/>
<polygon points="1288.69,1096.52 1303.09,1096.52 1295.89,1083.22" fill="#0000ff"/>
<polygon points="1336.15,1106.24 1350.55,1106.24 1343.35,1092.94" fill="#0000ff"/>
<polygon points="1383.62,1113.27 1398.02,1113.27 1390.82,1099.97" fill="#0000ff"/>
<polygon points="1431.08,1119.21 1445.48,1119.21 1438.28,1105.91" fill="#0000ff"/>
<polygon points="1478.54,1120.83 1492.94,1120.83 1485.74,1107.53" fill="#0000ff"/>
<polyline points="963.66,813.54 1011.12,875.66 1058.58,916.18 1106.05,959.94 1153.51,1004.24 1200.97,1040.44 1248.43,1068.53 1295.89,1085.28 1343.35,1096.08 1390.82,1104.72 1438.28,1111.75 1485.74,1113.91" fill="none" stroke="#ff00ff" stroke-width="2.3" stroke-linejoin="round"/>
<polygon points="956.46,808.24 970.86,808.24 963.66,821.54" fill="#ff00ff"/>
<polygon points="1003.92,870.36 1018.32,870.36 1011.12,883.66" fill="#ff00ff"/>
<polygon points="1051.38,910.88 1065.78,910.88 1058.58,924.18" fill="#ff00ff"/>
<polygon points="1098.85,954.64 1113.25,954.64 1106.05,967.94" fill="#ff00ff"/>
<polygon points="1146.31,998.94 1160.71,998.94 1153.51,1012.24" fill="#ff00ff"/>
<polygon points="1193.77,1035.14 1208.17,1035.14 1200.97,1048.44" fill="#ff00ff"/>
<polygon points="1241.23,1063.23 1255.63,1063.23 1248.43,1076.53" fill="#ff00ff"/>
<polygon points="1288.69,1079.98 1303.09,1079.98 1295.89,1093.28" fill="#ff00ff"/>
<polygon points="1336.15,1090.78 1350.55,1090.78 1343.35,1104.08" fill="#ff00ff"/>
<polygon points="1383.62,1099.42 1398.02,1099.42 1390.82,1112.72" fill="#ff00ff"/>
<polygon points="1431.08,1106.45 1445.48,1106.45 1438.28,1119.75" fill="#ff00ff"/>
<polygon points="1478.54,1108.61 1492.94,1108.61 1485.74,1121.91" fill="#ff00ff"/>
<polyline points="963.66,718.46 1011.12,785.98 1058.58,850.27 1106.05,911.86 1153.51,961.02 1200.97,1001.00 1248.43,1029.63 1295.89,1050.70 1343.35,1066.91 1390.82,1089.06 1438.28,1104.72 1485.74,1114.99" fill="none" stroke="#008000" stroke-width="2.3" stroke-linejoin="round"/>
<polygon points="956.26,718.46 963.66,711.06 971.06,718.46 963.66,725.86" fill="#008000"/>
<polygon points="1003.72,785.98 1011.12,778.58 1018.52,785.98 1011.12,793.38" fill="#008000"/>
<polygon points="1051.18,850.27 1058.58,842.87 1065.98,850.27 1058.58,857.67" fill="#008000"/>
<polygon points="1098.65,911.86 1106.05,904.46 1113.45,911.86 1106.05,919.26" fill="#008000"/>
<polygon points="1146.11,961.02 1153.51,953.62 1160.91,961.02 1153.51,968.42" fill="#008000"/>
<polygon points="1193.57,1001.00 1200.97,993.60 1208.37,1001.00 1200.97,1008.40" fill="#008000"/>
<polygon points="1241.03,1029.63 1248.43,1022.23 1255.83,1029.63 1248.43,1037.03" fill="#008000"/>
<polygon points="1288.49,1050.70 1295.89,1043.30 1303.29,1050.70 1295.89,1058.10" fill="#008000"/>
<polygon points="1335.95,1066.91 1343.35,1059.51 1350.75,1066.91 1343.35,1074.31" fill="#008000"/>
<polygon points="1383.42,1089.06 1390.82,1081.66 1398.22,1089.06 1390.82,1096.46" fill="#008000"/>
<polygon points="1430.88,1104.72 1438.28,1097.32 1445.68,1104.72 1438.28,1112.12" fill="#008000"/>
<polygon points="1478.34,1114.99 1485.74,1107.59 1493.14,1114.99 1485.74,1122.39" fill="#008000"/>
<text font-family="Liberation Sans, Arial, Helvetica, sans-serif" font-weight="bold" font-size="28.7" text-anchor="end" fill="#000" stroke="#000" stroke-width="0.18" stroke-linejoin="round" transform="translate(896.30 1125.39)">0</text>
<text font-family="Liberation Sans, Arial, Helvetica, sans-serif" font-weight="bold" font-size="28.7" text-anchor="end" fill="#000" stroke="#000" stroke-width="0.18" stroke-linejoin="round" transform="translate(896.30 1017.34)">20</text>
<text font-family="Liberation Sans, Arial, Helvetica, sans-serif" font-weight="bold" font-size="28.7" text-anchor="end" fill="#000" stroke="#000" stroke-width="0.18" stroke-linejoin="round" transform="translate(896.30 909.29)">40</text>
<text font-family="Liberation Sans, Arial, Helvetica, sans-serif" font-weight="bold" font-size="28.7" text-anchor="end" fill="#000" stroke="#000" stroke-width="0.18" stroke-linejoin="round" transform="translate(896.30 801.25)">60</text>
<text font-family="Liberation Sans, Arial, Helvetica, sans-serif" font-weight="bold" font-size="28.7" text-anchor="end" fill="#000" stroke="#000" stroke-width="0.18" stroke-linejoin="round" transform="translate(896.30 694.40)">80</text>
<text font-family="Liberation Sans, Arial, Helvetica, sans-serif" font-weight="bold" font-size="28.7" text-anchor="middle" fill="#000" stroke="#000" stroke-width="0.18" stroke-linejoin="round" transform="translate(961.76 1184.30)">0.2</text>
<text font-family="Liberation Sans, Arial, Helvetica, sans-serif" font-weight="bold" font-size="28.7" text-anchor="middle" fill="#000" stroke="#000" stroke-width="0.18" stroke-linejoin="round" transform="translate(1056.68 1184.30)">0.4</text>
<text font-family="Liberation Sans, Arial, Helvetica, sans-serif" font-weight="bold" font-size="28.7" text-anchor="middle" fill="#000" stroke="#000" stroke-width="0.18" stroke-linejoin="round" transform="translate(1151.61 1184.30)">0.6</text>
<text font-family="Liberation Sans, Arial, Helvetica, sans-serif" font-weight="bold" font-size="28.7" text-anchor="middle" fill="#000" stroke="#000" stroke-width="0.18" stroke-linejoin="round" transform="translate(1246.53 1184.30)">0.8</text>
<text font-family="Liberation Sans, Arial, Helvetica, sans-serif" font-weight="bold" font-size="28.7" text-anchor="middle" fill="#000" stroke="#000" stroke-width="0.18" stroke-linejoin="round" transform="translate(1341.45 1184.30)">1.0</text>
<text font-family="Liberation Sans, Arial, Helvetica, sans-serif" font-weight="bold" font-size="28.7" text-anchor="middle" fill="#000" stroke="#000" stroke-width="0.18" stroke-linejoin="round" transform="translate(1436.38 1184.30)">1.2</text>
<text font-family="Liberation Sans, Arial, Helvetica, sans-serif" font-weight="bold" font-size="28.7" text-anchor="middle" fill="#000" stroke="#000" stroke-width="0.18" stroke-linejoin="round" transform="translate(1531.30 1184.30)">1.4</text>
<text font-family="Liberation Sans, Arial, Helvetica, sans-serif" font-weight="bold" font-size="30" text-anchor="middle" fill="#000" stroke="#000" stroke-width="0.3" stroke-linejoin="round" transform="translate(1219.30 1227.30) scale(0.97 1)">Voltage (V)</text>
<text font-family="Liberation Sans, Arial, Helvetica, sans-serif" font-weight="bold" font-size="30" text-anchor="middle" fill="#000" stroke="#000" stroke-width="0.3" stroke-linejoin="round" transform="translate(825.20 910.60) rotate(-90) scale(0.97 1)">Current (mA)</text>
<line x1="1288.10" y1="726.60" x2="1338.70" y2="726.60" stroke="#000000" stroke-width="2.1"/>
<rect x="1308.12" y="721.52" width="10.16" height="10.16" fill="#000000"/>
<text x="1349.4" y="732.10" font-family="Liberation Sans, Arial, Helvetica, sans-serif" font-size="23.0" fill="#000" stroke="#000" stroke-width="0.25">20 °C (12 cm<tspan dy="-11.5" font-size="15.5">2</tspan><tspan dy="11.5">)</tspan></text>
<line x1="1288.10" y1="758.00" x2="1338.70" y2="758.00" stroke="#ff0000" stroke-width="2.1"/>
<circle cx="1313.20" cy="758.00" r="5.32" fill="#ff0000"/>
<text x="1349.4" y="763.50" font-family="Liberation Sans, Arial, Helvetica, sans-serif" font-size="23.0" fill="#000" stroke="#000" stroke-width="0.25">45 °C (12 cm<tspan dy="-11.5" font-size="15.5">2</tspan><tspan dy="11.5">)</tspan></text>
<line x1="1288.10" y1="789.40" x2="1338.70" y2="789.40" stroke="#0000ff" stroke-width="2.1"/>
<polygon points="1306.36,794.43 1320.04,794.43 1313.20,781.80" fill="#0000ff"/>
<text x="1349.4" y="794.90" font-family="Liberation Sans, Arial, Helvetica, sans-serif" font-size="23.0" fill="#000" stroke="#000" stroke-width="0.25">60 °C (12 cm<tspan dy="-11.5" font-size="15.5">2</tspan><tspan dy="11.5">)</tspan></text>
<line x1="1288.10" y1="820.80" x2="1338.70" y2="820.80" stroke="#ff00ff" stroke-width="2.1"/>
<polygon points="1306.36,815.76 1320.04,815.76 1313.20,828.40" fill="#ff00ff"/>
<text x="1349.4" y="826.30" font-family="Liberation Sans, Arial, Helvetica, sans-serif" font-size="23.0" fill="#000" stroke="#000" stroke-width="0.25">70 °C (12 cm<tspan dy="-11.5" font-size="15.5">2</tspan><tspan dy="11.5">)</tspan></text>
<line x1="1288.10" y1="852.20" x2="1338.70" y2="852.20" stroke="#008000" stroke-width="2.1"/>
<polygon points="1306.17,852.20 1313.20,845.17 1320.23,852.20 1313.20,859.23" fill="#008000"/>
<text x="1349.4" y="857.70" font-family="Liberation Sans, Arial, Helvetica, sans-serif" font-size="23.0" fill="#000" stroke="#000" stroke-width="0.25">85 °C (12 cm<tspan dy="-11.5" font-size="15.5">2</tspan><tspan dy="11.5">)</tspan></text>
<text font-family="Liberation Sans, Arial, Helvetica, sans-serif" font-size="24.7" text-anchor="middle" fill="#000" stroke="#000" stroke-width="0.25" stroke-linejoin="round" transform="translate(1191.00 833.00)">Increasing</text>
<text font-family="Liberation Sans, Arial, Helvetica, sans-serif" font-size="24.7" text-anchor="middle" fill="#000" stroke="#000" stroke-width="0.25" stroke-linejoin="round" transform="translate(1193.50 862.90)">temperature</text>
<line x1="1026.40" y1="1041.10" x2="1149.25" y2="896.42" stroke="#000" stroke-width="3.0" stroke-linecap="round"/>
<polygon points="1160.25,883.46 1152.60,899.27 1145.90,893.57" fill="#000" stroke="#000" stroke-width="2" stroke-linejoin="round"/>
</svg></body></html>
